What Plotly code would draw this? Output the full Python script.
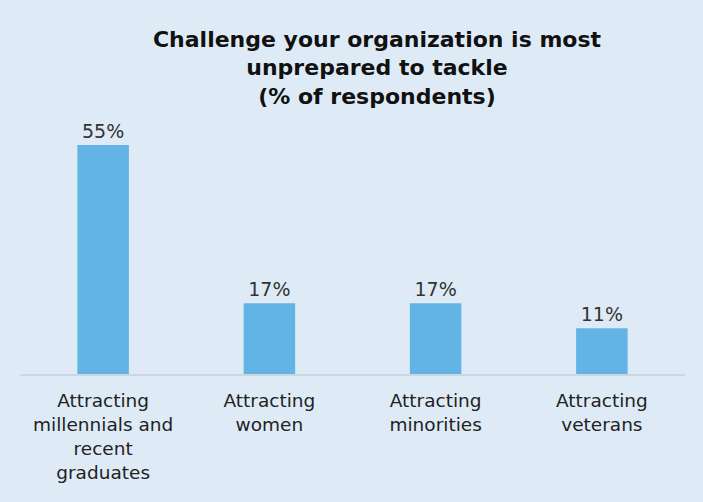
import plotly.graph_objects as go

categories = [
    "Attracting<br>millennials and<br>recent<br>graduates",
    "Attracting<br>women",
    "Attracting<br>minorities",
    "Attracting<br>veterans",
]
values = [55, 17, 17, 11]
labels = ["55%", "17%", "17%", "11%"]

TITLE = "Challenge your organization is most<br>unprepared to tackle<br>(% of respondents)"
BG = "#deebf7"
BAR = "#62b4e5"
FONT = "DejaVu Sans"

fig = go.Figure(
    go.Bar(
        x=categories,
        y=values,
        text=labels,
        textposition="outside",
        cliponaxis=False,
        marker=dict(color=BAR, line=dict(width=0)),
        textfont=dict(family=FONT, size=19, color="#333333"),
    )
)

fig.update_layout(
    width=703,
    height=502,
    paper_bgcolor=BG,
    plot_bgcolor=BG,
    margin=dict(l=20, r=18, t=110, b=128),
    bargap=0.69,
    showlegend=False,
    title=dict(
        text=TITLE,
        x=377 / 703,
        xanchor="center",
        y=0.907,
        yanchor="top",
        font=dict(family=FONT, size=22, color="#111111", weight="bold"),
    ),
)

fig.update_xaxes(
    showline=True,
    linecolor="#cbd7e1",
    linewidth=1.5,
    ticks="outside",
    tickcolor="rgba(0,0,0,0)",
    ticklen=9,
    tickfont=dict(family=FONT, size=18.5, color="#222222"),
    tickangle=0,
)
fig.update_yaxes(visible=False, range=[0, 63.4])

# drop the default page margin so the figure fills the window
fig.write_html(
    "out.html",
    config={"displayModeBar": False},
    post_script="document.body.style.margin='0';",
)
